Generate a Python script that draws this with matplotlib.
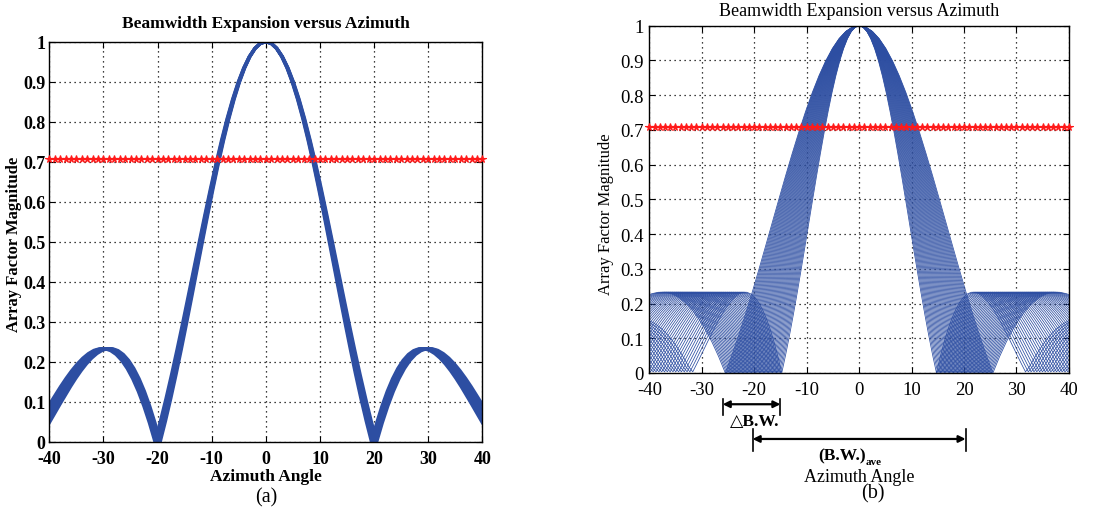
import numpy as np
import matplotlib
matplotlib.use("Agg")
import matplotlib.pyplot as plt

# ---------------- data ----------------
# one-sided array factor magnitude of the reference pattern (first null at 20 deg)
base_deg = list(range(57))
base_mag = [1.0, 0.9958, 0.9833, 0.9627, 0.9343, 0.8985, 0.8560, 0.8073, 0.7532, 0.6946,
            0.6322, 0.5671, 0.5000, 0.4320, 0.3640, 0.2967, 0.2312, 0.1680, 0.1081, 0.0519,
            0.0, 0.0472, 0.0892, 0.1260, 0.1573, 0.1830, 0.2033, 0.2181, 0.2277, 0.2324,
            0.2324, 0.2283, 0.2202, 0.2088, 0.1944, 0.1775, 0.1585, 0.1379, 0.1158, 0.0936,
            0.0707, 0.0479, 0.0253, 0.0034, 0.0176, 0.0375, 0.0562, 0.0734, 0.0892, 0.1033,
            0.1157, 0.1266, 0.1357, 0.1432, 0.1492, 0.1537, 0.1567]
base_null = 20.0

# panel (a): nearly identical patterns (first null angles)
a_nulls = [19.5, 19.7, 19.9, 20.0, 20.1, 20.3, 20.5]
# panel (b): patterns with expanded / shrunk beamwidth (first null angles)
b_nulls = [14.75, 15.0, 15.25, 15.5, 15.75, 16.0, 16.25, 16.5, 16.75, 17.0, 17.25,
           17.5, 17.75, 18.0, 18.25, 18.5, 18.75, 19.0, 19.25, 19.5, 19.75, 20.0,
           20.25, 20.5, 20.75, 21.0, 21.25, 21.5, 21.75, 22.0, 22.25, 22.5, 22.75,
           23.0, 23.25, 23.5, 23.75, 24.0, 24.25, 24.5, 24.75, 25.0, 25.25, 25.5]

half_power = 0.707
ref_x = list(range(-40, 41))

xticks = [-40, -30, -20, -10, 0, 10, 20, 30, 40]
yticks = [0, 0.1, 0.2, 0.3, 0.4, 0.5, 0.6, 0.7, 0.8, 0.9, 1.0]
ytick_labels = ['0', '0.1', '0.2', '0.3', '0.4', '0.5', '0.6', '0.7', '0.8', '0.9', '1']

dbw_span = [-26.0, -15.0]
bwave_span = [-20.3, 20.3]

title = 'Beamwidth Expansion versus Azimuth'
xlabel = 'Azimuth Angle'
ylabel = 'Array Factor Magnitude'

# ---------------- styling ----------------
plt.rcParams['font.family'] = ['Liberation Serif', 'DejaVu Serif']

BLUE = '#2d4ea2'
RED = '#ff1a1a'

deg = np.array(base_deg, dtype=float)
mag = np.array(base_mag, dtype=float)
sym_x = np.concatenate([-deg[::-1], deg[1:]])
sym_y = np.concatenate([mag[::-1], mag[1:]])

fig = plt.figure(figsize=(11.01, 5.10), dpi=100)
ax_a = fig.add_axes([0.0448, 0.1320, 0.3933, 0.7843])
ax_b = fig.add_axes([0.5897, 0.2667, 0.3812, 0.6810])


def style(ax, tick_fs, bold=True, xpad=4, ypad=3):
    ax.set_xlim(-40, 40)
    ax.set_ylim(0, 1)
    ax.set_xticks(xticks)
    ax.set_xticklabels([str(t) for t in xticks])
    ax.set_yticks(yticks)
    ax.set_yticklabels(ytick_labels)
    ax.tick_params(direction='in', length=4, width=0.8, top=True, right=True,
                   labelsize=tick_fs)
    ax.tick_params(axis='x', pad=xpad)
    ax.tick_params(axis='y', pad=ypad)
    for lab in ax.get_xticklabels() + ax.get_yticklabels():
        lab.set_fontweight('bold' if bold else 'normal')
    ax.grid(True, linestyle=(0, (1, 3)), color='black', linewidth=0.9)
    for sp in ax.spines.values():
        sp.set_linewidth(1.0)
        sp.set_color('black')


# ---- panel (a)
for n in a_nulls:
    ax_a.plot(sym_x * n / base_null, sym_y, color=BLUE, linewidth=2.3, solid_joinstyle='round')
ax_a.plot(ref_x, [half_power] * len(ref_x), color=RED, linewidth=1.5, marker='*',
          markersize=5.5, markeredgewidth=0.8, clip_on=False, zorder=5)
style(ax_a, 13, bold=True, xpad=6, ypad=3)
ax_a.text(0.5, 1.047, title, transform=ax_a.transAxes, ha='center', va='center',
          fontsize=12.5, fontweight='bold')
ax_a.set_xlabel(xlabel, fontsize=12.5, fontweight='bold', labelpad=1)
ax_a.set_ylabel(ylabel, fontsize=12, fontweight='bold')
ax_a.yaxis.set_label_coords(-0.062, 0.495)
ax_a.text(0.5, -0.139, '(a)', transform=ax_a.transAxes, ha='center', va='center',
          fontsize=14.5)

# ---- panel (b)
for n in b_nulls:
    ax_b.plot(sym_x * n / base_null, sym_y, color=BLUE, linewidth=0.55)
ax_b.plot(ref_x, [half_power] * len(ref_x), color=RED, linewidth=1.5, marker='*',
          markersize=5.5, markeredgewidth=0.8, clip_on=False, zorder=5)
style(ax_b, 13.5, bold=False, xpad=6, ypad=4)
ax_b.text(0.5, 1.043, title, transform=ax_b.transAxes, ha='center', va='center',
          fontsize=13)
ax_b.set_ylabel(ylabel, fontsize=12)
ax_b.yaxis.set_label_coords(-0.084, 0.46)

tr = ax_b.get_xaxis_transform()
# delta B.W. marker
for xv in dbw_span:
    ax_b.plot([xv, xv], [-0.075, -0.120], transform=tr, color='black', lw=1.2, clip_on=False)
ax_b.annotate('', xy=(dbw_span[0], -0.090), xytext=(dbw_span[1], -0.090),
              xycoords=tr, textcoords=tr,
              arrowprops=dict(arrowstyle='<|-|>', color='black', lw=1.6,
                              mutation_scale=10, shrinkA=0, shrinkB=0))
ax_b.text(-19.9, -0.138, '\u25b3B.W.', transform=tr, ha='center', va='center',
          fontsize=12.5, fontweight='bold')
# average B.W. marker
for xv in bwave_span:
    ax_b.plot([xv, xv], [-0.160, -0.226], transform=tr, color='black', lw=1.2, clip_on=False)
ax_b.annotate('', xy=(bwave_span[0], -0.190), xytext=(bwave_span[1], -0.190),
              xycoords=tr, textcoords=tr,
              arrowprops=dict(arrowstyle='<|-|>', color='black', lw=1.6,
                              mutation_scale=10, shrinkA=0, shrinkB=0))
ax_b.text(1.2, -0.238, '(B.W.)', transform=tr, ha='right', va='center',
          fontsize=12.5, fontweight='bold')
ax_b.text(1.3, -0.254, 'ave', transform=tr, ha='left', va='center',
          fontsize=8, fontweight='bold')
ax_b.text(0.5, -0.298, xlabel, transform=ax_b.transAxes, ha='center', va='center',
          fontsize=13)
ax_b.text(2.6, -0.345, '(b)', transform=tr, ha='center', va='center', fontsize=14.5)

fig.savefig('out.png', dpi=100)
